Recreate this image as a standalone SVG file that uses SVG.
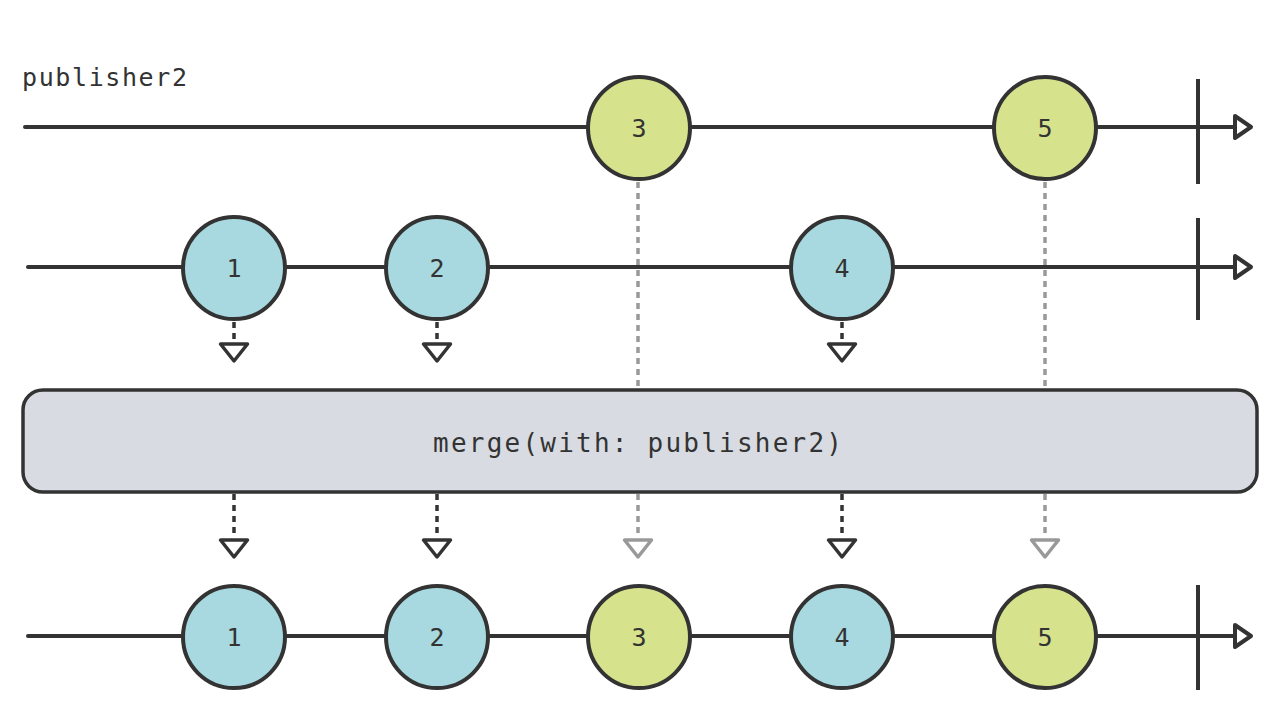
<svg xmlns="http://www.w3.org/2000/svg" width="1280" height="724" viewBox="0 0 1280 724">
<style>
.line{stroke:#333;stroke-width:4;fill:none;stroke-linecap:round}
.bar{stroke:#333;stroke-width:4}
.head{fill:#fff;stroke:#333;stroke-width:4;stroke-linejoin:round}
.blue{fill:#a8d9e0;stroke:#333;stroke-width:4}
.green{fill:#d6e28c;stroke:#333;stroke-width:4}
.num{font-family:"DejaVu Sans Mono","Liberation Mono",monospace;font-size:25px;fill:#333;text-anchor:middle}
.lbl{font-family:"DejaVu Sans Mono","Liberation Mono",monospace;fill:#333}
.dash{stroke:#333;stroke-width:3.5;stroke-dasharray:6 5;fill:none}
.gdash{stroke:#999;stroke-width:3.5;stroke-dasharray:6 5;fill:none}
.dtri{fill:#fff;stroke:#333;stroke-width:3.5;stroke-linejoin:round}
.gtri{fill:#fff;stroke:#999;stroke-width:3.5;stroke-linejoin:round}
</style>
<rect width="1280" height="724" fill="#fff"/>
<text class="lbl" x="22" y="86" font-size="25" textLength="165">publisher2</text>
<g id="connectors">
  <line class="gdash" x1="638" y1="182" x2="638" y2="388"/>
  <line class="gdash" x1="1045" y1="182" x2="1045" y2="388"/>
  <line class="dash" x1="234" y1="322" x2="234" y2="342"/>
  <line class="dash" x1="437" y1="322" x2="437" y2="342"/>
  <line class="dash" x1="842" y1="322" x2="842" y2="342"/>
  <path class="dtri" d="M220.5 344 H247.5 L234 361 Z"/>
  <path class="dtri" d="M423.5 344 H450.5 L437 361 Z"/>
  <path class="dtri" d="M828.5 344 H855.5 L842 361 Z"/>
  <line class="dash" x1="234" y1="494" x2="234" y2="538"/>
  <line class="dash" x1="437" y1="494" x2="437" y2="538"/>
  <line class="gdash" x1="638" y1="494" x2="638" y2="538"/>
  <line class="dash" x1="842" y1="494" x2="842" y2="538"/>
  <line class="gdash" x1="1045" y1="494" x2="1045" y2="538"/>
  <path class="dtri" d="M220.5 540 H247.5 L234 557 Z"/>
  <path class="dtri" d="M423.5 540 H450.5 L437 557 Z"/>
  <path class="gtri" d="M624.5 540 H651.5 L638 557 Z"/>
  <path class="dtri" d="M828.5 540 H855.5 L842 557 Z"/>
  <path class="gtri" d="M1031.5 540 H1058.5 L1045 557 Z"/>
</g>
<g id="timeline1">
  <line class="line" x1="25" y1="127" x2="1235" y2="127"/>
  <line class="bar" x1="1198" y1="79" x2="1198" y2="184"/>
  <path class="head" d="M1235 116 L1251 127 L1235 138 Z"/>
</g>
<g id="timeline2">
  <line class="line" x1="28" y1="267" x2="1235" y2="267"/>
  <line class="bar" x1="1198" y1="218" x2="1198" y2="320"/>
  <path class="head" d="M1235 256 L1251 267 L1235 278 Z"/>
</g>
<g id="timeline3">
  <line class="line" x1="28" y1="636" x2="1235" y2="636"/>
  <line class="bar" x1="1198" y1="585" x2="1198" y2="690"/>
  <path class="head" d="M1235 625 L1251 636 L1235 647 Z"/>
</g>
<g id="p2-3"><circle class="green" cx="639" cy="128" r="51"/><text class="num" x="639" y="137">3</text></g>
<g id="p2-5"><circle class="green" cx="1045" cy="128" r="51"/><text class="num" x="1045" y="137">5</text></g>
<g id="p1-1"><circle class="blue" cx="234" cy="268" r="51"/><text class="num" x="234" y="277">1</text></g>
<g id="p1-2"><circle class="blue" cx="437" cy="268" r="51"/><text class="num" x="437" y="277">2</text></g>
<g id="p1-4"><circle class="blue" cx="842" cy="268" r="51"/><text class="num" x="842" y="277">4</text></g>
<g id="merge">
  <rect x="23" y="390" width="1234" height="102" rx="20" fill="#d8dbe2" stroke="#333" stroke-width="3.5"/>
  <text class="lbl" x="433" y="452" font-size="26" textLength="409">merge(with: publisher2)</text>
</g>
<g id="o-1"><circle class="blue" cx="234" cy="637" r="51"/><text class="num" x="234" y="646">1</text></g>
<g id="o-2"><circle class="blue" cx="437" cy="637" r="51"/><text class="num" x="437" y="646">2</text></g>
<g id="o-3"><circle class="green" cx="639" cy="637" r="51"/><text class="num" x="639" y="646">3</text></g>
<g id="o-4"><circle class="blue" cx="842" cy="637" r="51"/><text class="num" x="842" y="646">4</text></g>
<g id="o-5"><circle class="green" cx="1045" cy="637" r="51"/><text class="num" x="1045" y="646">5</text></g>
</svg>
